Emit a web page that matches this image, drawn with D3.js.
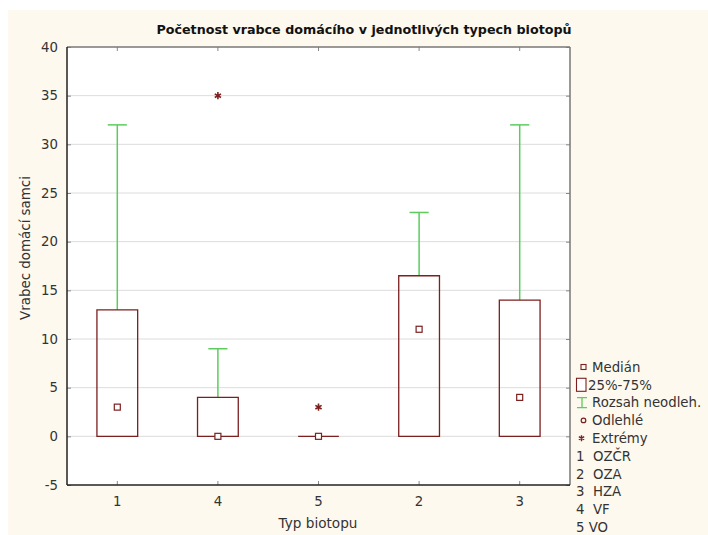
<!DOCTYPE html>
<html>
<head>
<meta charset="utf-8">
<script src="https://cdn.jsdelivr.net/npm/d3@7"></script>
<style>
  html, body { margin: 0; padding: 0; background: #ffffff; }
  svg { display: block; font-family: "DejaVu Sans", Verdana, sans-serif; }
</style>
</head>
<body>
<svg id="chart" width="708" height="535"></svg>
<script>
// Biotope order along the x axis
const categories = ["1", "4", "5", "2", "3"];
// Box statistics per biotope
const lowerQuartile = [0, 0, 0, 0, 0];
const upperQuartile = [13, 4, 0, 16.5, 14];
const medians = [3, 0, 0, 11, 4];
const whiskerLow = [0, 0, 0, 0, 0];
const whiskerHigh = [32, 9, 0, 23, 32];
// Extreme values per biotope
const extremes = [[], [35], [3], [], []];
// Y axis ticks
const yTicks = [-5, 0, 5, 10, 15, 20, 25, 30, 35, 40];
// Legend texts
const legendSymbols = ["Medián", "25%-75%", "Rozsah neodleh.", "Odlehlé", "Extrémy"];
const biotopeNames = ["1  OZČR", "2  OZA", "3  HZA", "4  VF", "5 VO"];

const boxColor = "#7b1f1f";
const whiskerColor = "#5dcc5d";
const textColor = "#333333";
const fs = 13.3;

const svg = d3.select("#chart");

// page background
svg.append("rect").attr("x", 8).attr("y", 10).attr("width", 700).attr("height", 525).attr("fill", "#fdf9ef");

const plotL = 67, plotR = 570, plotT = 47, plotB = 485;

const x = d3.scaleBand().domain(categories).range([plotL, plotR]).padding(0);
const y = d3.scaleLinear().domain([-5, 40]).range([plotB, plotT]);

// plot area
svg.append("rect").attr("x", plotL).attr("y", plotT).attr("width", plotR - plotL).attr("height", plotB - plotT).attr("fill", "#ffffff");

// horizontal grid
svg.append("g").selectAll("line")
  .data(yTicks.filter(t => t > -5 && t < 40))
  .join("line")
  .attr("x1", plotL).attr("x2", plotR)
  .attr("y1", d => y(d)).attr("y2", d => y(d))
  .attr("stroke", "#dcdcdc").attr("stroke-width", 1);

// y axis, ticks pointing inward
const yAxis = svg.append("g").attr("transform", `translate(${plotL},0)`)
  .call(d3.axisLeft(y).tickValues(yTicks).tickSizeInner(-4).tickSizeOuter(0).tickPadding(9).tickFormat(d => String(d)));
yAxis.select(".domain").remove();
yAxis.selectAll(".tick line").attr("stroke", "#888");
yAxis.selectAll(".tick text").attr("fill", textColor).attr("font-size", fs).attr("font-family", "DejaVu Sans");

// right side ticks
svg.append("g").attr("transform", `translate(${plotR},0)`)
  .call(d3.axisRight(y).tickValues(yTicks).tickSizeInner(-4).tickSizeOuter(0).tickFormat(""))
  .call(g => g.select(".domain").remove())
  .call(g => g.selectAll(".tick line").attr("stroke", "#888"));

// x axis
const xAxis = svg.append("g").attr("transform", `translate(0,${plotB})`)
  .call(d3.axisBottom(x).tickSizeInner(-4).tickSizeOuter(0).tickPadding(12));
xAxis.select(".domain").remove();
xAxis.selectAll(".tick line").attr("stroke", "#888");
xAxis.selectAll(".tick text").attr("fill", textColor).attr("font-size", fs).attr("font-family", "DejaVu Sans");

// top ticks
svg.append("g").attr("transform", `translate(0,${plotT})`)
  .call(d3.axisTop(x).tickSizeInner(-4).tickSizeOuter(0).tickFormat(""))
  .call(g => g.select(".domain").remove())
  .call(g => g.selectAll(".tick line").attr("stroke", "#888"));

// frame
svg.append("line").attr("x1", plotL).attr("x2", plotR).attr("y1", plotT).attr("y2", plotT).attr("stroke", "#777").attr("stroke-width", 1.5);
svg.append("line").attr("x1", plotR).attr("x2", plotR).attr("y1", plotT).attr("y2", plotB).attr("stroke", "#777").attr("stroke-width", 1.5);
svg.append("line").attr("x1", plotL).attr("x2", plotL).attr("y1", plotT).attr("y2", plotB).attr("stroke", "#222").attr("stroke-width", 1.5);
svg.append("line").attr("x1", plotL).attr("x2", plotR).attr("y1", plotB).attr("y2", plotB).attr("stroke", "#222").attr("stroke-width", 1.5);

const bw = x.bandwidth();
const boxW = bw * 0.405;
const capW = bw * 0.19;

const data = categories.map((c, i) => ({
  c, q1: lowerQuartile[i], q3: upperQuartile[i], med: medians[i],
  lo: whiskerLow[i], hi: whiskerHigh[i], ext: extremes[i]
}));

const g = svg.append("g");
data.forEach(d => {
  const cx = x(d.c) + bw / 2;
  // upper whisker
  if (d.hi > d.q3) {
    g.append("line").attr("x1", cx).attr("x2", cx).attr("y1", y(d.q3)).attr("y2", y(d.hi))
      .attr("stroke", whiskerColor).attr("stroke-width", 1.5);
    g.append("line").attr("x1", cx - capW / 2).attr("x2", cx + capW / 2).attr("y1", y(d.hi)).attr("y2", y(d.hi))
      .attr("stroke", whiskerColor).attr("stroke-width", 1.5);
  }
  // lower whisker
  if (d.lo < d.q1) {
    g.append("line").attr("x1", cx).attr("x2", cx).attr("y1", y(d.q1)).attr("y2", y(d.lo))
      .attr("stroke", whiskerColor).attr("stroke-width", 1.5);
    g.append("line").attr("x1", cx - capW / 2).attr("x2", cx + capW / 2).attr("y1", y(d.lo)).attr("y2", y(d.lo))
      .attr("stroke", whiskerColor).attr("stroke-width", 1.5);
  }
  // box as a closed path, so a zero-height box still shows as a line
  const x0 = cx - boxW / 2, x1 = cx + boxW / 2, yt = y(d.q3), yb = y(d.q1);
  g.append("path").attr("d", `M${x0},${yt}H${x1}V${yb}H${x0}Z`)
    .attr("fill", "none").attr("stroke", boxColor).attr("stroke-width", 1.3);
  // median marker
  g.append("rect").attr("x", cx - 3).attr("y", y(d.med) - 3).attr("width", 6).attr("height", 6)
    .attr("fill", "#fff").attr("stroke", boxColor).attr("stroke-width", 1.2);
  // extremes
  d.ext.forEach(v => {
    g.append("path").attr("d", d3.symbol(d3.symbolAsterisk, 36)())
      .attr("transform", `translate(${cx},${y(v)})`)
      .attr("fill", "none").attr("stroke", boxColor).attr("stroke-width", 1.6);
  });
});

// title
svg.append("text").attr("x", 364).attr("y", 34).attr("text-anchor", "middle")
  .attr("font-size", 12.7).attr("font-weight", "bold").attr("fill", "#111")
  .text("Početnost vrabce domácího v jednotlivých typech biotopů");

// axis titles
svg.append("text").attr("x", 318).attr("y", 528).attr("text-anchor", "middle")
  .attr("font-size", 13.6).attr("fill", textColor).text("Typ biotopu");
svg.append("text").attr("transform", "translate(30,248) rotate(-90)").attr("text-anchor", "middle")
  .attr("font-size", 13.4).attr("fill", textColor).text("Vrabec domácí samci");

// legend
const lg = svg.append("g");
const ly0 = 367, lstep = 17.8;
legendSymbols.forEach((t, i) => {
  const yy = ly0 + i * lstep;
  const tx = i === 1 ? 588 : 592;
  lg.append("text").attr("x", tx).attr("y", yy + 4.8).attr("font-size", fs).attr("fill", textColor).text(t);
  if (i === 0) {
    lg.append("rect").attr("x", 581).attr("y", yy - 2.5).attr("width", 5).attr("height", 5)
      .attr("fill", "none").attr("stroke", boxColor).attr("stroke-width", 1.1);
  } else if (i === 1) {
    lg.append("rect").attr("x", 576.5).attr("y", yy - 6.5).attr("width", 9.5).attr("height", 13)
      .attr("fill", "#fff").attr("stroke", boxColor).attr("stroke-width", 1.1);
  } else if (i === 2) {
    lg.append("path").attr("d", `M577,${yy - 5}H587M582,${yy - 5}V${yy + 5}M577,${yy + 5}H587`)
      .attr("fill", "none").attr("stroke", whiskerColor).attr("stroke-width", 1.3);
  } else if (i === 3) {
    lg.append("circle").attr("cx", 583.5).attr("cy", yy).attr("r", 2.3)
      .attr("fill", "none").attr("stroke", boxColor).attr("stroke-width", 1.2);
  } else {
    lg.append("path").attr("d", d3.symbol(d3.symbolAsterisk, 26)())
      .attr("transform", `translate(581.5,${yy})`)
      .attr("fill", "none").attr("stroke", boxColor).attr("stroke-width", 1.4);
  }
});
biotopeNames.forEach((t, i) => {
  const yy = ly0 + (legendSymbols.length + i) * lstep;
  lg.append("text").attr("x", 576).attr("y", yy + 4.8).attr("font-size", fs).attr("fill", textColor)
    .attr("xml:space", "preserve").style("white-space", "pre").text(t);
});
</script>
</body>
</html>
